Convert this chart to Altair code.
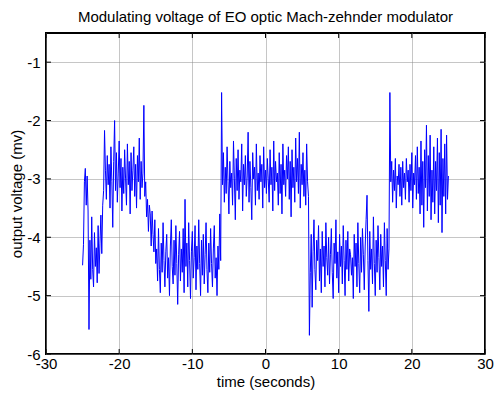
import altair as alt
import pandas as pd

# sampling grid of the recorded trace
t_start = -25.0
t_step = 0.125

# output voltage samples (mV), segment by segment
start_burst = [-4.48, -4.12, -3.05, -2.82, -3.45, -2.95, -3.55, -5.58]
low_1 = [-4.05, -4.72, -3.65, -4.55, -4.85, -3.92, -4.50, -4.18, -4.78, -3.80, -4.62]
rise_1 = [-4.10, -3.62, -4.28, -3.45, -3.20]
high_1 = [-2.17, -2.85, -3.35, -2.60, -3.10, -2.75, -3.50, -2.45, -3.05, -3.83,
          -2.70, -2.00, -3.20, -2.55, -3.40, -2.90, -2.35, -3.15, -2.65, -3.55,
          -2.80, -3.25, -2.50, -3.00, -3.45, -2.40, -3.10, -2.70, -3.60, -2.55,
          -3.20, -2.85, -2.45, -3.30, -2.75, -3.50, -2.60, -3.05, -2.30, -3.35,
          -2.70, -3.15, -2.90, -1.74]
fall_1 = [-3.30, -3.05, -3.65, -3.35, -3.90, -3.45, -3.60, -4.15, -3.55, -3.95,
          -4.25, -3.70, -4.45]
low_2 = [-4.20, -4.75, -3.85, -4.55, -4.95, -4.10, -4.60, -3.75, -4.40, -4.85,
         -4.25, -3.95, -4.70, -4.35, -5.00, -4.15, -3.70, -4.50, -4.80, -4.05,
         -4.65, -3.80, -4.45, -5.15, -4.30, -3.90, -4.75, -4.20, -4.60, -3.85,
         -4.95, -3.35, -4.50, -4.10, -4.85, -3.75, -4.40, -5.05, -4.25, -3.90,
         -4.70, -4.35, -3.80, -4.90, -4.15, -4.55, -3.70, -4.45, -5.00, -4.05,
         -4.65, -3.95, -4.80, -4.30, -3.75, -4.55, -4.95, -4.10, -4.60, -3.85,
         -4.45, -4.85, -4.20, -3.80, -4.70, -4.35, -5.00, -4.15, -4.55, -3.60,
         -4.40]
jump_1 = [-1.52]
high_2 = [-3.10, -2.55, -3.40, -2.80, -3.25, -2.45, -3.05, -3.60, -2.70, -3.15,
          -2.90, -3.45, -2.35, -3.00, -3.70, -2.65, -3.20, -2.50, -3.35, -2.85,
          -3.05, -2.40, -3.55, -2.75, -3.10, -2.60, -3.30, -2.95, -2.20, -3.40,
          -2.70, -3.15, -3.70, -2.55, -3.00, -2.80, -3.45, -2.40, -3.20, -2.90,
          -3.35, -2.60, -3.05, -2.75, -3.50, -2.45, -3.15, -2.85, -3.25, -2.65,
          -3.00, -3.40, -2.50, -3.10, -2.80, -3.55, -2.35, -3.20, -2.70, -3.05,
          -2.90, -3.45, -2.55, -3.25, -2.75, -3.60, -2.40, -3.10, -2.85, -3.30,
          -2.60, -3.00, -2.45, -3.35, -2.70, -3.65, -2.50, -3.15, -2.80, -3.40,
          -2.30, -3.05, -2.65, -3.25, -2.20, -3.50, -2.75, -3.10, -2.55, -3.30,
          -2.85, -3.45, -2.40, -3.05]
fall_2 = [-3.30, -5.68]
low_3 = [-4.60, -3.95, -5.20, -4.25, -3.70, -4.55, -4.90, -4.05, -4.40, -3.80,
         -4.75, -4.20, -4.95, -3.90, -4.50, -4.15, -4.85, -3.75, -4.35, -4.65,
         -4.00, -4.80, -4.30, -3.85, -4.60, -5.05, -4.10, -4.45, -3.70, -4.70,
         -4.25, -4.95, -3.95, -4.50, -4.15, -4.80, -3.80, -4.40, -5.00, -4.05,
         -4.55, -3.90, -4.75, -4.20, -4.30, -4.65, -4.35, -5.05, -3.95, -4.50,
         -4.10, -4.85, -3.75, -4.45, -4.95, -4.00, -4.60, -3.85, -4.30, -4.90,
         -4.15, -3.70, -3.28, -4.40, -5.27, -3.90, -4.55, -4.20, -4.80, -3.65,
         -4.45, -5.00, -4.05, -4.60, -3.80, -4.35, -4.90, -3.95, -4.50, -4.15,
         -4.85, -3.75, -4.40, -5.00, -3.85, -4.55, -4.20]
jump_2 = [-1.52]
high_3 = [-3.05, -2.70, -3.40, -2.85, -3.20, -2.65, -3.50, -2.95, -3.10, -2.75,
          -3.30, -2.80, -3.45, -2.70, -3.15, -2.90, -3.35, -2.65, -3.05, -2.85,
          -3.40, -2.75, -3.20, -2.55, -3.50, -2.90, -3.10, -2.60, -3.35, -2.45,
          -3.25, -2.80, -3.60, -2.35, -3.45, -2.70, -3.83, -2.50, -3.15, -2.08,
          -3.55, -2.60, -3.30, -2.25, -3.70, -2.85, -3.40, -2.45, -3.60, -2.70,
          -3.20, -2.30, -3.75, -2.55, -3.45, -2.15, -3.92, -2.65, -3.30, -2.40,
          -3.60, -2.25, -3.35, -2.95]

x_ticks = [-30, -20, -10, 0, 10, 20, 30]
y_ticks = [-6, -5, -4, -3, -2, -1]

voltage = (start_burst + low_1 + rise_1 + high_1 + fall_1 + low_2 + jump_1 +
           high_2 + fall_2 + low_3 + jump_2 + high_3)
time = [t_start + t_step * i for i in range(len(voltage))]
df = pd.DataFrame({"time": time, "voltage": voltage})

W, H = 439, 321
FONT = "Liberation Sans"
PLAIN = "'' + datum.value"   # plain hyphen minus, no decimals

xscale = alt.Scale(domain=[-30, 30], nice=False, zero=False)
yscale = alt.Scale(domain=[-6, -0.5], nice=False, zero=False)

line = alt.Chart(df).mark_line(color="#0000ff", strokeWidth=1).encode(
    x=alt.X("time:Q", scale=xscale,
            axis=alt.Axis(values=x_ticks, title="time (seconds)", labelFlush=False,
                          labelOverlap=False, labelBaseline="alphabetic", labelPadding=14,
                          labelExpr=PLAIN,
                          titleY=32, titleBaseline="alphabetic")),
    y=alt.Y("voltage:Q", scale=yscale,
            axis=alt.Axis(values=y_ticks, title="output voltage (mv)", labelFlush=False,
                          labelOverlap=False, labelPadding=6, labelExpr=PLAIN,
                          titleX=-25, titleBaseline="alphabetic")),
)

xt = pd.DataFrame({"time": x_ticks})
yt = pd.DataFrame({"voltage": y_ticks})

xb = alt.Chart(xt).mark_rule(color="black", strokeWidth=1).encode(
    x=alt.X("time:Q", scale=xscale), y=alt.value(H), y2=alt.value(H - 5))
xtp = alt.Chart(xt).mark_rule(color="black", strokeWidth=1).encode(
    x=alt.X("time:Q", scale=xscale), y=alt.value(0), y2=alt.value(5))
yl = alt.Chart(yt).mark_rule(color="black", strokeWidth=1).encode(
    y=alt.Y("voltage:Q", scale=yscale), x=alt.value(0), x2=alt.value(5))
yr = alt.Chart(yt).mark_rule(color="black", strokeWidth=1).encode(
    y=alt.Y("voltage:Q", scale=yscale), x=alt.value(W), x2=alt.value(W - 5))

chart = alt.layer(line, xb, xtp, yl, yr).properties(
    width=W, height=H,
    autosize=alt.AutoSizeParams(type="none"),
    padding={"left": 38, "top": 25, "right": 9, "bottom": 37},
    title=alt.TitleParams(
        text="Modulating voltage of EO optic Mach-zehnder modulator",
        font=FONT, fontSize=15, fontWeight="normal", color="black",
        anchor="middle", offset=7.5),
).configure_view(
    stroke="black", strokeWidth=2
).configure_axis(
    labelFont=FONT, labelFontSize=15, labelColor="black",
    titleFont=FONT, titleFontSize=15, titleFontWeight="normal", titleColor="black",
    domain=False, ticks=False,
    grid=True, gridColor="#8c8c8c", gridDash=[1, 1], gridWidth=1,
)

chart.save("out.html", embed_options={"renderer": "svg", "actions": False})
